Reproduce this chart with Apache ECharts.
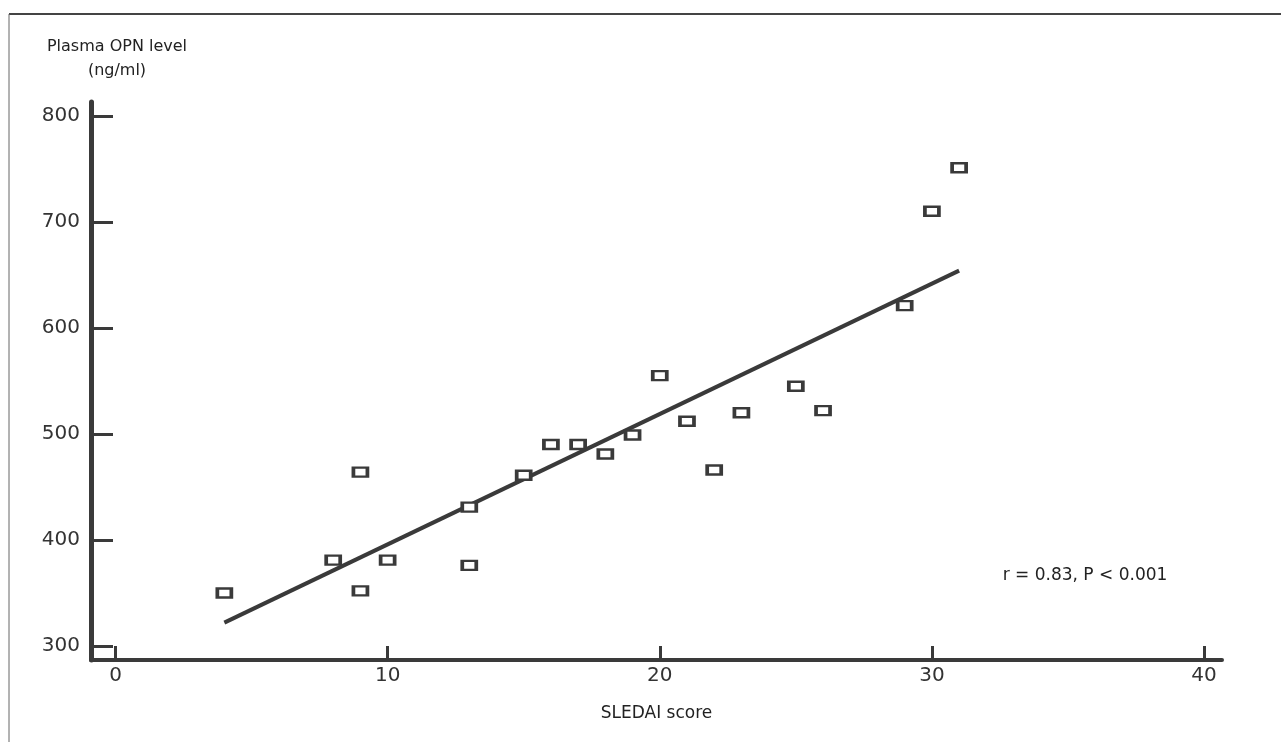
<!DOCTYPE html>
<html>
<head>
<meta charset="utf-8">
<title>Plasma OPN vs SLEDAI</title>
<script src="https://cdn.jsdelivr.net/npm/echarts@6/dist/echarts.min.js"></script>
<style>
  html, body { margin: 0; padding: 0; background: #fff; }
  #chart { width: 1281px; height: 742px; }
</style>
</head>
<body>
<div id="chart"></div>
<script>
// SLEDAI score (x) and plasma OPN level (y)
var sledai = [4, 8, 9, 9, 10, 13, 13, 15, 16, 17, 18, 19, 20, 21, 22, 23, 25, 26, 29, 30, 31];
var opn = [350, 381, 464, 352, 381, 431, 376, 461, 490, 490, 481, 499, 555, 512, 466, 520, 545, 522, 621, 710, 751];
// regression line end points
var fitX = [4, 31];
var fitY = [322, 654];
var xTicks = [0, 10, 20, 30, 40];
var yTicks = [300, 400, 500, 600, 700, 800];

var ink = '#3a3a3a';
var font = 'DejaVu Sans, Verdana, sans-serif';
var chart = echarts.init(document.getElementById('chart'));

var points = sledai.map(function (x, i) { return [x, opn[i]]; });
var fit = fitX.map(function (x, i) { return [x, fitY[i]]; });

chart.setOption({
  animation: false,
  backgroundColor: '#fff',
  grid: { left: 91, right: 59, top: 102, bottom: 82 },
  xAxis: {
    type: 'value',
    min: -0.9,
    max: 40.66,
    splitLine: { show: false },
    axisLine: { onZero: false, lineStyle: { color: ink, width: 4 } },
    axisTick: { inside: true, length: 14, lineStyle: { color: ink, width: 3 }, customValues: xTicks },
    axisLabel: { color: '#333', fontSize: 20, fontFamily: font, margin: 6, customValues: xTicks },
    name: 'SLEDAI score',
    nameLocation: 'middle',
    nameGap: 45,
    nameTextStyle: { color: '#222', fontSize: 17, fontFamily: font }
  },
  yAxis: {
    type: 'value',
    min: 286.8,
    max: 813,
    splitLine: { show: false },
    axisLine: { onZero: false, lineStyle: { color: ink, width: 5 } },
    axisTick: { inside: true, length: 22, lineStyle: { color: ink, width: 3 }, customValues: yTicks },
    axisLabel: { color: '#333', fontSize: 20, fontFamily: font, margin: 11, customValues: yTicks }
  },
  graphic: [
    { type: 'line', shape: { x1: 9, y1: 14, x2: 1281, y2: 14 }, style: { stroke: '#444', lineWidth: 2 } },
    { type: 'line', shape: { x1: 9, y1: 14, x2: 9, y2: 742 }, style: { stroke: '#666', lineWidth: 1 } },
    { type: 'text', x: 117, y: 47, style: { text: 'Plasma OPN level', fontSize: 16, fill: '#222', fontFamily: font, align: 'center', verticalAlign: 'middle' } },
    { type: 'text', x: 117, y: 71, style: { text: '(ng/ml)', fontSize: 16, fill: '#222', fontFamily: font, align: 'center', verticalAlign: 'middle' } },
    { type: 'text', x: 1085, y: 576, style: { text: 'r = 0.83, P < 0.001', fontSize: 17, fill: '#222', fontFamily: font, align: 'center', verticalAlign: 'middle' } }
  ],
  series: [
    {
      type: 'line',
      data: fit,
      symbol: 'none',
      lineStyle: { color: ink, width: 4 },
      z: 2
    },
    {
      type: 'scatter',
      data: points,
      symbol: 'rect',
      symbolSize: [14, 9],
      itemStyle: { color: '#fff', borderColor: ink, borderWidth: 3, opacity: 1 },
      z: 3
    }
  ]
});
</script>
</body>
</html>
